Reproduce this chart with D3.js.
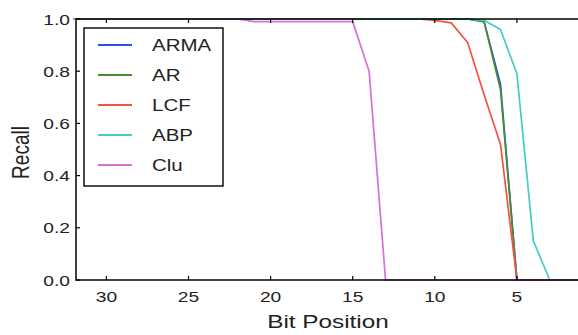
<!DOCTYPE html>
<html>
<head>
<meta charset="utf-8">
<script src="https://cdn.jsdelivr.net/npm/d3@7"></script>
<style>
  body { margin: 0; background: #fff; }
  svg { display: block; font-family: "Liberation Sans", Arial, sans-serif; }
</style>
</head>
<body>
<svg id="chart" width="578" height="335"></svg>
<script>
// bit positions, 32 down to 1
const bits = d3.range(32, 0, -1);

// recall per bit position (index 0 = bit 32)
const arma = [1,1,1,1,1,1,1,1,1,1,1,1,1,1,1,1,1,1,1,1,1,1,1,1,1,0.99,0.75,0,0,0,0,0];
const ar   = [1,1,1,1,1,1,1,1,1,1,1,1,1,1,1,1,1,1,1,1,1,1,1,1,1,0.99,0.73,0,0,0,0,0];
const lcf  = [1,1,1,1,1,1,1,1,1,1,1,1,1,1,1,1,1,1,1,1,1,1,0.995,0.985,0.91,0.71,0.52,0,0,0,0,0];
const abp  = [1,1,1,1,1,1,1,1,1,1,1,1,1,1,1,1,1,1,1,1,1,1,1,1,1,0.995,0.96,0.79,0.15,0,0,0];
const clu  = [1,1,1,1,1,1,1,1,1,1,1,0.99,0.99,0.99,0.99,0.99,0.99,0.99,0.8,0,0,0,0,0,0,0,0,0,0,0,0,0];

const seriesNames = ["ARMA", "AR", "LCF", "ABP", "Clu"];
const seriesData = [arma, ar, lcf, abp, clu];
const colors = ["#2a52f2", "#4a8c2c", "#f5523f", "#46caca", "#d671d9"];

const xTicks = [30, 25, 20, 15, 10, 5];
const yTicks = [0, 0.2, 0.4, 0.6, 0.8, 1.0];

const svg = d3.select("#chart");
const padL = 76, padR = 582.6, padT = 19, padB = 280;
// the source picture is stretched sideways, so text is too
const stretch = 1.28;

const x = d3.scaleLinear().domain([31.85, 1]).range([padL, padR]);
const y = d3.scaleLinear().domain([0, 1]).range([padB, padT]);

// lines, first series at the bottom
const line = d3.line()
    .x((d, i) => x(bits[i]))
    .y(d => y(d));

const gLines = svg.append("g")
    .attr("fill", "none")
    .attr("stroke-width", 1.7)
    .attr("stroke-linejoin", "round");

seriesData.forEach((vals, k) => {
    gLines.append("path")
        .attr("d", line(vals))
        .attr("stroke", colors[k]);
});

// frame
svg.append("rect")
    .attr("x", padL).attr("y", padT)
    .attr("width", padR - padL).attr("height", padB - padT)
    .attr("fill", "none").attr("stroke", "#000").attr("stroke-width", 1.5);

// inward ticks on all four sides
const tickLen = 4;
const axisG = svg.append("g").attr("stroke", "#000").attr("stroke-width", 1.2);
xTicks.forEach(t => {
    axisG.append("line").attr("x1", x(t)).attr("x2", x(t)).attr("y1", padB).attr("y2", padB - tickLen);
    axisG.append("line").attr("x1", x(t)).attr("x2", x(t)).attr("y1", padT).attr("y2", padT + tickLen);
});
yTicks.forEach(t => {
    axisG.append("line").attr("x1", padL).attr("x2", padL + tickLen).attr("y1", y(t)).attr("y2", y(t));
    axisG.append("line").attr("x1", padR).attr("x2", padR - tickLen).attr("y1", y(t)).attr("y2", y(t));
});

// text helper: place at (tx,ty) and widen
function label(g, tx, ty, str, size, anchor) {
    return g.append("text")
        .attr("transform", `translate(${tx},${ty}) scale(${stretch},1)`)
        .attr("text-anchor", anchor)
        .attr("font-size", size).attr("fill", "#222")
        .text(str);
}

// tick labels
const tickG = svg.append("g");
xTicks.forEach(t => label(tickG, x(t), 302, t, 15, "middle"));
yTicks.forEach(t => label(tickG, 70, y(t) + 5.5, t.toFixed(1), 15, "end"));

// axis titles
label(svg, 328, 328, "Bit Position", 19, "middle");

svg.append("text")
    .attr("transform", `translate(29,${(padT + padB) / 2 + 3}) rotate(-90) scale(1,${stretch})`)
    .attr("text-anchor", "middle").attr("font-size", 19).attr("fill", "#222")
    .text("Recall");

// legend
const legend = svg.append("g").attr("transform", "translate(84,28)");
legend.append("rect")
    .attr("width", 139).attr("height", 158)
    .attr("fill", "#fff").attr("stroke", "#000").attr("stroke-width", 1.4);

seriesNames.forEach((name, k) => {
    const ly = 17 + k * 30;
    legend.append("line")
        .attr("x1", 14).attr("x2", 48).attr("y1", ly).attr("y2", ly)
        .attr("stroke", colors[k]).attr("stroke-width", 2);
    label(legend, 68, ly + 6, name, 16, "start");
});
</script>
</body>
</html>
